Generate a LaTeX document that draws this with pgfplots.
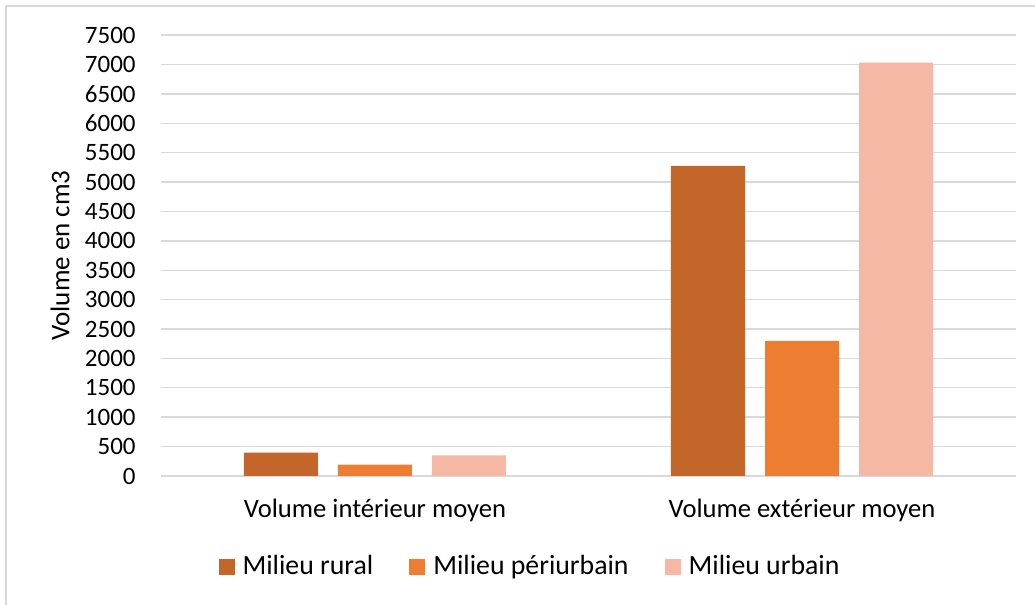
\documentclass[border=0pt]{standalone}
\usepackage{fontspec}
\setmainfont{Carlito}
\usepackage{pgfplots}
\pgfplotsset{compat=1.18}
\definecolor{rural}{HTML}{C4662A}
\definecolor{periurbain}{HTML}{ED7D31}
\definecolor{urbain}{HTML}{F4B8A5}
\definecolor{gridgray}{HTML}{D9D9D9}
\begin{document}
\fontsize{12.5pt}{15pt}\selectfont
\begin{tikzpicture}
\path[use as bounding box] (0,0) rectangle (517.5pt,302.5pt);
\draw[line width=1pt, gridgray] (3pt,0) -- (3pt,299.5pt) -- (517.5pt,299.5pt);
\begin{axis}[
  at={(80.75pt,64.5pt)}, anchor=south west,
  scale only axis, width=427pt, height=220.5pt,
  ybar=10pt, bar width=37pt,
  xmin=-0.5, xmax=1.5, ymin=0, ymax=7500,
  xtick=data,
  xticklabels={Volume intérieur moyen, Volume extérieur moyen},
  ytick distance=500,
  /pgf/number format/assume math mode=true,
  /pgf/number format/1000 sep={},
  axis line style={draw=none},
  major tick length=0pt,
  ymajorgrids, grid style={gridgray, line width=0.7pt},
  xticklabel style={anchor=center, yshift=-17pt, font=\fontsize{13.3pt}{16pt}\selectfont},
  yticklabel style={anchor=east, inner sep=0pt, xshift=-12.75pt},
  ylabel={Volume en cm3},
  ylabel style={at={(axis description cs:-0.1188,0.5)}, anchor=center,
    font=\fontsize{13.5pt}{16pt}\selectfont},
  legend style={at={(axis description cs:0.4327,-0.206)}, anchor=center,
    draw=none, legend columns=3, font=\fontsize{13.9pt}{16pt}\selectfont,
    /tikz/every odd column/.append style={column sep=2pt},
    /tikz/every even column/.append style={column sep=16pt}},
  legend image code/.code={\fill[#1] (0pt,-4pt) rectangle (8pt,4pt);},
]
\addplot[fill=rural, draw=none] coordinates {(0,397) (1,5275)};
\addplot[fill=periurbain, draw=none] coordinates {(0,195) (1,2300)};
\addplot[fill=urbain, draw=none] coordinates {(0,351) (1,7030)};
\legend{Milieu rural, Milieu périurbain, Milieu urbain}
\end{axis}
\end{tikzpicture}
\end{document}
